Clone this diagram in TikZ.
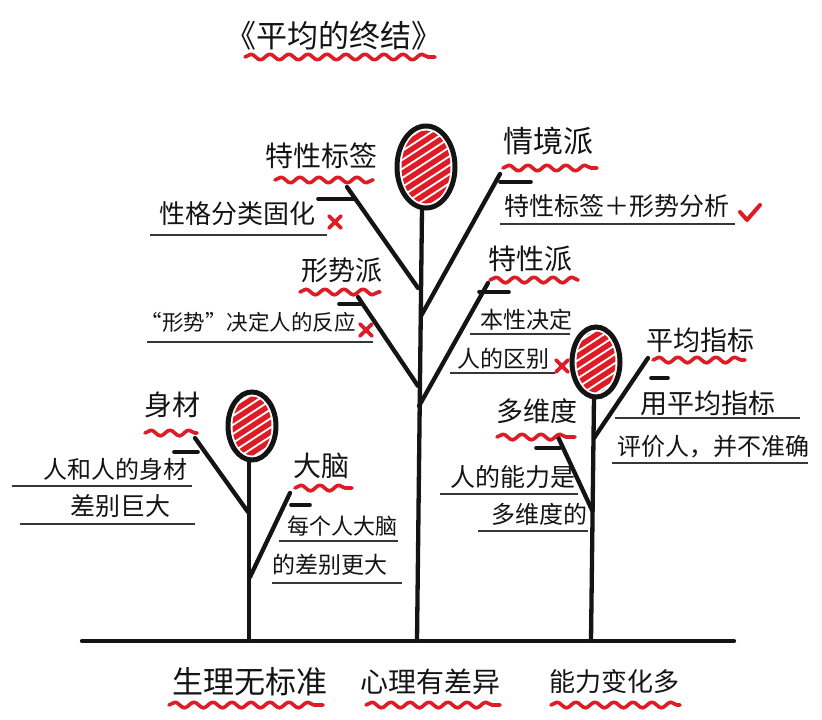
\documentclass[tikz,border=0pt]{standalone}
\usepackage{fontspec}
\newfontfamily\cjk{Noto Sans CJK SC}
\usetikzlibrary{decorations.pathmorphing,shapes.geometric}
\definecolor{penred}{RGB}{222,28,38}
\definecolor{ink}{RGB}{20,20,20}
\tikzset{
  lbl/.style={font=\cjk\fontsize{#1}{#1}\selectfont, inner sep=0pt, outer sep=0pt, text=ink},
  branch/.style={draw=ink, line width=4.3pt, line cap=round},
  tick/.style={draw=ink, line width=3.6pt, line cap=round},
  uline/.style={draw=ink!85, line width=1.3pt},
  wave/.style={draw=penred, line width=3.6pt, line cap=round, line join=round, decorate,
    decoration={snake, amplitude=2.8pt, segment length=19pt}},
  crossmark/.style={draw=penred, line width=3.6pt, line cap=round},
  fruitring/.style={ellipse, draw=ink, line width=5pt, inner sep=0pt, outer sep=0pt},
}
\newcommand\hatchfruit[5]{% name, x, y, rx, ry
  \begin{scope}
    \clip (#2,#3) ellipse [x radius=#4-4.5, y radius=#5-4.5];
    \foreach \k in {-72,-63,...,72}
      \draw[penred, line width=5.4pt, line cap=round] (#2-60,{#3+\k+39}) -- ++(120,-78);
  \end{scope}
  \node[fruitring, minimum width={2*#4 pt}, minimum height={2*#5 pt}] (#1) at (#2,#3) {};
}
\newcommand\redcross[2]{%
  \draw[crossmark] (#1-6,#2-6) -- (#1+6,#2+6);
  \draw[crossmark] (#1-6,#2+6) -- (#1+6,#2-6);
}
\begin{document}
\begin{tikzpicture}[x=1pt,y=-1pt]
\fill[white] (0,0) rectangle (822,720);
\useasboundingbox (0,0) rectangle (822,720);

% title
\node[lbl=31] (title) at (334,36) {《平均的终结》};
\draw[wave] (245,57) -- (435,57);

% ground
\coordinate (gl) at (82,641);
\coordinate (gr) at (734,641);
\coordinate (g1) at (249,641);
\coordinate (g2) at (417,641);
\coordinate (g3) at (591,641);
\draw[branch] (gl) -- (gr);

% fruits
\hatchfruit{f1}{426}{167}{29}{41}
\hatchfruit{f2}{252}{426}{24}{34}
\hatchfruit{f3}{596}{362}{24}{35}

% trunks
\draw[branch] ([xshift=-4pt]f1.south) -- (g2);
\draw[branch] ([xshift=-3pt]f2.south) -- (g1);
\draw[branch] ([xshift=-2pt]f3.south) -- (g3);

% ---------- middle tree ----------
\coordinate (m1a) at (347,187); \coordinate (m1b) at (418,288);
\coordinate (m2a) at (358,297); \coordinate (m2b) at (418,386);
\coordinate (m3a) at (500,174); \coordinate (m3b) at (421,316);
\coordinate (m4a) at (488,283); \coordinate (m4b) at (419,406);
\draw[branch] (m1a) -- (m1b);
\draw[branch] (m2a) -- (m2b);
\draw[branch] (m3a) -- (m3b);
\draw[branch] (m4a) -- (m4b);
\draw[tick] (318,199) -- (354,199);
\draw[tick] (339,304) -- (362,304);
\draw[tick] (500,182) -- (531,182);
\draw[tick] (479,292) -- (509,292);

\node[lbl=28] (t1) at (321,156) {特性标签};
\draw[wave] (275,180) -- (373,180);
\node[lbl=26] (b1) at (237,214) {性格分类固化};
\draw[uline] (150,235) -- (327,235);
\redcross{335}{222}

\node[lbl=27] (t2) at (342,270) {形势派};
\draw[wave] (300,292) -- (380,292);
\node[lbl=21.5] (b2) at (248,322) {“形势”决定人的反应};
\draw[uline] (147,342) -- (373,342);
\redcross{366}{330}

\node[lbl=30] (t3) at (548,141) {情境派};
\draw[wave] (503,168) -- (597,168);
\node[lbl=25] (b3) at (617,206) {特性标签＋形势分析};
\draw[uline] (500,224) -- (735,224);
\draw[draw=penred, line width=4pt, line cap=round, line join=round] (740,212) -- (747,220) -- (760,205);

\node[lbl=28] (t4) at (530,259) {特性派};
\draw[wave] (490,280) -- (578,280);
\node[lbl=23] (b4a) at (526,320) {本性决定};
\draw[uline] (470,334) -- (570,334);
\node[lbl=23] (b4b) at (503,359) {人的区别};
\draw[uline] (450,373) -- (555,373);
\redcross{562}{366}

% ---------- left tree ----------
\coordinate (l1a) at (195,438); \coordinate (l1b) at (248,512);
\coordinate (l2a) at (290,493); \coordinate (l2b) at (250,577);
\draw[branch] (l1a) -- (l1b);
\draw[branch] (l2a) -- (l2b);
\draw[tick] (174,452) -- (198,452);
\draw[tick] (291,505) -- (310,505);

\node[lbl=28] (t5) at (172,405) {身材};
\draw[wave] (145,433) -- (197,433);
\node[lbl=24] (b5a) at (115,469) {人和人的身材};
\draw[uline] (12,486) -- (192,486);
\node[lbl=25] (b5b) at (120,506) {差别巨大};
\draw[uline] (20,524) -- (195,524);

\node[lbl=28] (t6) at (321,466) {大脑};
\draw[wave] (295,488) -- (352,488);
\node[lbl=22] (b6a) at (342,526) {每个人大脑};
\draw[uline] (279,541) -- (398,541);
\node[lbl=23] (b6b) at (330,565) {的差别更大};
\draw[uline] (272,583) -- (402,583);

% ---------- right tree ----------
\coordinate (r1a) at (648,358); \coordinate (r1b) at (594,438);
\coordinate (r2a) at (558,437); \coordinate (r2b) at (592,510);
\draw[branch] (r1a) -- (r1b);
\draw[branch] (r2a) -- (r2b);
\draw[tick] (651,378) -- (668,378);
\draw[tick] (536,448) -- (560,448);

\node[lbl=27] (t7) at (700,340) {平均指标};
\draw[wave] (653,360) -- (745,360);
\node[lbl=27] (b7a) at (708,403) {用平均指标};
\draw[uline] (615,418) -- (800,418);
\node[lbl=24] (b7b) at (713,447) {评价人，并不准确};
\draw[uline] (612,463) -- (808,463);

\node[lbl=27] (t8) at (537,411) {多维度};
\draw[wave] (497,437) -- (575,437);
\node[lbl=25] (b8a) at (513,477) {人的能力是};
\draw[uline] (440,494) -- (578,494);
\node[lbl=24] (b8b) at (539,514) {多维度的};
\draw[uline] (478,531) -- (588,531);

% ---------- bottom labels ----------
\node[lbl=31] (c1) at (250,682) {生理无标准};
\draw[wave] (169,705) -- (323,705);
\node[lbl=28] (c2) at (430,682) {心理有差异};
\draw[wave] (366,705) -- (500,705);
\node[lbl=26] (c3) at (614,682) {能力变化多};
\draw[wave] (551,705) -- (680,705);
\end{tikzpicture}
\end{document}
